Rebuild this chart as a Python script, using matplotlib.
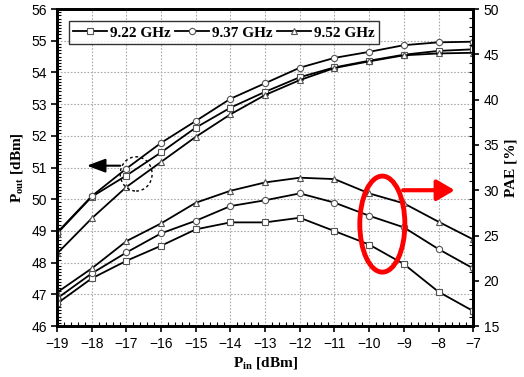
import numpy as np
import matplotlib.pyplot as plt
from matplotlib.patches import Ellipse, Circle
from matplotlib.ticker import MultipleLocator

# input power sweep
pin = [-19, -18, -17, -16, -15, -14, -13, -12, -11, -10, -9, -8, -7]

# output power [dBm]
pout_922 = [48.92, 50.08, 50.75, 51.48, 52.26, 52.89, 53.39, 53.85, 54.16, 54.37, 54.56, 54.68, 54.73]
pout_937 = [48.95, 50.10, 50.97, 51.78, 52.47, 53.17, 53.66, 54.15, 54.46, 54.65, 54.86, 54.95, 54.97]
pout_952 = [48.29, 49.40, 50.39, 51.18, 51.97, 52.68, 53.29, 53.76, 54.14, 54.35, 54.54, 54.60, 54.62]

# PAE [%]
pae_922 = [17.5, 20.27, 22.21, 23.87, 25.68, 26.45, 26.45, 26.96, 25.49, 24.0, 21.85, 18.79, 16.66]
pae_937 = [18.06, 20.82, 23.13, 25.24, 26.63, 28.25, 28.89, 29.65, 28.63, 27.18, 25.9, 23.5, 21.37]
pae_952 = [18.72, 21.37, 24.38, 26.34, 28.62, 29.94, 30.86, 31.38, 31.23, 29.65, 28.55, 26.52, 24.57]

labels = ['9.22 GHz', '9.37 GHz', '9.52 GHz']
markers = ['s', 'o', '^']

serif = 'Liberation Serif'
sans = 'Liberation Sans'

fig = plt.figure(figsize=(5.24, 3.77), dpi=100)
ax = fig.add_axes([0.109, 0.135, 0.794, 0.841])
ax2 = ax.twinx()

mk = dict(color='black', lw=1.3, ms=4.5, mfc='white', mec='#555555', mew=0.8)
lines = []
for y, m, lab in zip([pout_922, pout_937, pout_952], markers, labels):
    l, = ax.plot(pin, y, marker=m, label=lab, **mk)
    lines.append(l)
for y, m in zip([pae_922, pae_937, pae_952], markers):
    ax2.plot(pin, y, marker=m, **mk)

ax.set_xlim(-19, -7)
ax.set_ylim(46, 56)
ax2.set_ylim(15, 50)
ax.xaxis.set_major_locator(MultipleLocator(1))
ax.xaxis.set_minor_locator(MultipleLocator(0.2))
ax.yaxis.set_major_locator(MultipleLocator(1))
ax.yaxis.set_minor_locator(MultipleLocator(0.1))
ax2.yaxis.set_major_locator(MultipleLocator(5))
ax2.yaxis.set_minor_locator(MultipleLocator(1))

ax.grid(True, which='major', color='#aaaaaa', ls=(0, (1.5, 1.5)), lw=0.8)
ax.set_axisbelow(True)

for a in (ax, ax2):
    for s in a.spines.values():
        s.set_linewidth(2)
    a.tick_params(which='major', direction='out', length=4, width=1.2, labelsize=10)
    a.tick_params(which='minor', direction='in', length=3, width=0.8)
    for t in a.get_xticklabels() + a.get_yticklabels():
        t.set_fontfamily(sans)

ax.set_xlabel(r'P$_{\mathregular{in}}$ [dBm]', fontfamily=serif, fontweight='bold', fontsize=11)
ax.set_ylabel(r'P$_{\mathregular{out}}$ [dBm]', fontfamily=serif, fontweight='bold', fontsize=11)
ax2.set_ylabel('PAE [%]', fontfamily=serif, fontweight='bold', fontsize=11)

leg = ax.legend(handles=lines, loc='upper left', ncol=3, frameon=True, fancybox=False,
                handlelength=2.2, handletextpad=0.2, columnspacing=0.3, borderpad=0.3,
                prop={'family': serif, 'weight': 'bold', 'size': 11}, bbox_to_anchor=(0.01, 0.985))
leg.get_frame().set_edgecolor('black')
leg.get_frame().set_linewidth(1)

# dashed circle + arrow on Pout curves
ax.add_patch(Ellipse((-16.72, 50.8), 0.92, 1.08, fill=False, ls=(0, (2, 2)), lw=1.0, color='black', zorder=5))
ax.annotate('', xy=(-18.22, 51.06), xytext=(-17.1, 51.06),
            arrowprops=dict(arrowstyle='-|>,head_length=0.8,head_width=0.3', color='black', lw=1.5, mutation_scale=14))

# red ellipse + arrow on PAE curves
ax2.add_patch(Ellipse((-9.62, 26.26), 1.3, 10.6, fill=False, color='red', lw=3.5, zorder=6))
ax2.annotate('', xy=(-7.45, 30.0), xytext=(-9.1, 30.0),
             arrowprops=dict(arrowstyle='-|>,head_length=0.6,head_width=0.35', color='red', lw=3, mutation_scale=18))

fig.savefig('out.png', dpi=100)
